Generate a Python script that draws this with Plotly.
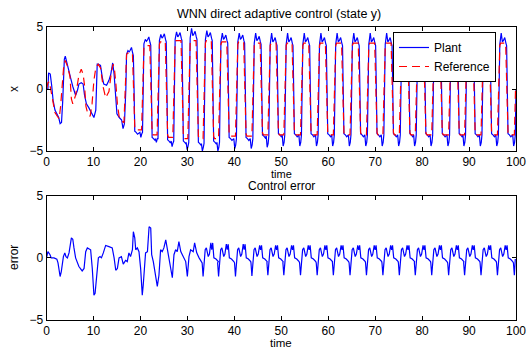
import plotly.graph_objects as go

# ---------------- data ----------------
# Plant (state y), irregular start
plant_early_t = [0, 0.3, 0.45, 0.8, 1.1, 1.4, 1.8, 2.2, 2.6, 2.9, 3.2, 3.45, 3.8, 4.0, 4.4, 4.8,
                 5.2, 5.6, 5.9, 6.2, 6.6, 6.9, 7.4, 7.8, 8.1, 8.5, 9.0, 9.5, 10.1, 10.5, 10.8,
                 11.0, 11.5, 11.9, 12.2, 12.8, 13.3, 13.7, 14.1, 14.4, 14.8, 15.0, 15.5, 16.0,
                 16.3, 16.6]
plant_early_v = [0, 0.0, 1.3, 1.2, 0.3, -0.9, -1.7, -2.0, -2.3, -2.8, -2.7, -1.0, 2.4, 2.65, 2.1,
                 1.4, 0.8, 0.2, -0.1, -0.5, -0.1, 0.4, 0.5, 0.4, -0.5, -1.2, -1.5, -1.9, -2.3,
                 -1.7, 2.0, 2.0, 1.9, 0.9, 0.4, 0.3, 0.7, 1.2, 2.1, 1.2, -0.9, -2.0, -2.3, -2.5,
                 -3.2, -2.8]

# Reference, irregular start
ref_early_t = [0, 0.3, 0.6, 1.0, 1.4, 1.8, 2.3, 2.7, 3.0, 3.4, 3.7, 4.0, 4.5, 5.0, 5.3, 5.6,
               6.2, 6.9, 7.4, 7.8, 8.1, 8.4, 8.8, 9.3, 9.7, 10.1, 10.5, 11.0, 11.5, 12.1, 12.6,
               13.3, 13.8, 14.2, 14.5, 14.8, 15.1, 15.5, 16.0, 16.5]
ref_early_v = [0, 0.5, 0.6, -0.2, -1.2, -1.9, -2.2, -2.4, -1.4, 0.6, 2.0, 2.3, 1.8, 1.0, -0.8,
               -1.2, -0.5, 1.1, 1.6, 1.2, 0.3, -1.4, -2.0, -2.2, -1.2, 0.7, 1.7, 2.0, 1.7, 0.1,
               -0.7, -0.2, 1.3, 2.0, 1.5, 0.3, -1.2, -2.3, -2.6, -2.7]

# Control error, irregular start
err_early_t = [0, 0.3, 0.75, 1.0, 1.6, 2.2, 2.45, 2.9, 3.15, 3.6, 3.9, 4.15, 4.45, 4.8, 5.3,
               5.6, 5.85, 6.2, 6.9, 7.6, 8.0, 8.35, 8.7, 9.05, 9.4, 9.75, 10.1, 10.35, 10.7,
               11.05, 11.4, 11.7, 12.1, 12.6, 13.3, 14.0, 14.4, 14.75, 15.1, 15.45, 15.95,
               16.35, 16.85, 17.2, 17.55, 17.9, 18.3, 18.5, 18.8, 19.0, 19.35, 19.7, 20.05,
               20.4, 20.6, 20.9, 21.1, 21.5, 21.85, 22.2, 22.4, 22.75, 23.1, 23.6, 23.95, 24.3,
               24.65, 25.0, 25.4, 25.75, 26.1, 26.45, 26.8, 27.15, 27.5, 27.85, 28.2, 28.6,
               28.95, 29.65, 30.0, 30.35, 30.7, 31.25, 31.55, 32.0, 32.5]
err_early_v = [0, 0.5, 0.25, 0.0, 0.0, -0.1, -0.4, -1.5, -1.1, 0.1, 0.4, 0.1, 0.0, 0.4, 1.6,
               1.5, 0.8, 0.0, -0.7, -1.05, -0.85, 0.5, 0.8, 0.7, 0.65, -0.85, -3.0, -2.85, -1.1,
               0.0, 0.1, 0.0, 0.4, 1.0, 0.9, 0.8, 0.0, -1.0, -0.85, 0.0, 0.1, -0.5, -0.2, -0.3,
               0.4, 0.1, 0.65, 2.1, 1.6, 0.65, 0.8, 0.5, -0.85, -3.0, -2.2, 0.0, 0.4, 0.5, 2.5,
               2.4, 0.25, -0.3, -1.1, -2.3, -1.4, 0.65, 0.5, 0.8, 1.45, 0.65, -0.2, -0.7, -1.6,
               0.25, 0.65, 0.5, 1.3, 0.5, 0.25, -0.3, -1.5, 0.1, 0.65, 0.5, 1.2, 0.4, 0.0]

# Periodic part: one entry per cycle (time of the plant's rising edge)
cycle_rise   = [16.9, 20.6, 23.9, 27.25, 30.45, 33.7, 37.0, 40.6, 44.1, 47.5, 50.9, 54.45,
                58.0, 61.45, 65.0, 68.5, 72.0, 75.5, 78.9, 82.4, 86.0, 89.4, 92.9, 96.4, 100.0]
plant_peak   = [3.1, 4.0, 4.4, 4.6, 4.9, 4.7, 4.5, 4.5, 4.5, 4.5, 4.5, 4.5, 4.5, 4.5, 4.5,
                4.5, 4.5, 4.5, 4.5, 4.5, 4.5, 4.5, 4.5, 4.5, 4.5]
plant_high   = [3.0, 3.85, 4.1, 4.2, 4.3, 4.2, 4.0, 4.0, 3.9, 3.8, 3.8, 3.8, 3.8, 3.8, 3.8,
                3.8, 3.8, 3.8, 3.8, 3.8, 3.8, 3.8, 3.8, 3.8, 3.8]
plant_low    = [-3.5, -4.0, -4.2, -4.3, -4.4, -4.3, -4.0, -4.0, -3.8, -3.7, -3.7, -3.7, -3.7,
                -3.7, -3.7, -3.7, -3.7, -3.7, -3.7, -3.7, -3.7, -3.7, -3.7, -3.7, -3.7]
plant_trough = [-3.9, -4.3, -4.65, -4.9, -5.0, -5.0, -4.8, -4.8, -4.7, -4.6, -4.6, -4.6, -4.6,
                -4.6, -4.6, -4.6, -4.6, -4.6, -4.6, -4.6, -4.6, -4.6, -4.6, -4.6, -4.6]
ref_high     = [2.9, 3.5, 3.8, 3.9, 3.9, 3.9, 3.8, 3.8, 3.7, 3.7, 3.7, 3.7, 3.7, 3.7, 3.7,
                3.7, 3.7, 3.7, 3.7, 3.7, 3.7, 3.7, 3.7, 3.7, 3.7]
ref_low      = [-3.3, -3.7, -3.9, -4.0, -4.0, -4.0, -3.8, -3.8, -3.7, -3.7, -3.7, -3.7, -3.7,
                -3.7, -3.7, -3.7, -3.7, -3.7, -3.7, -3.7, -3.7, -3.7, -3.7, -3.7, -3.7]
err_dip      = [None, None, None, None, None, -1.5, -1.5, -1.5, -1.45, -1.4, -1.4, -1.4, -1.4,
                -1.4, -1.4, -1.4, -1.4, -1.4, -1.4, -1.4, -1.4, -1.4, -1.4, -1.4, -1.4]
err_peak     = [None, None, None, None, None, 1.2, 1.1, 1.1, 1.0, 1.0, 1.0, 1.0, 1.0, 1.0,
                1.0, 1.0, 1.0, 1.0, 1.0, 1.0, 1.0, 1.0, 1.0, 1.0, 1.0]

T_END = 100.0

# ---------------- build the series from the read values ----------------
def clip(ts, vs):
    out_t, out_v = [], []
    for t, v in zip(ts, vs):
        if t <= T_END + 1e-9:
            out_t.append(t)
            out_v.append(v)
    return out_t, out_v

pt, pv = list(plant_early_t), list(plant_early_v)
rt, rv = list(ref_early_t), list(ref_early_v)
et, ev = list(err_early_t), list(err_early_v)

n = len(cycle_rise)
for i, r in enumerate(cycle_rise):
    nxt = cycle_rise[i + 1] if i + 1 < n else r + 3.5
    H, P, L, T = plant_high[i], plant_peak[i], plant_low[i], plant_trough[i]
    pt += [r, r + 0.15, r + 0.45, r + 0.7, r + 0.9, r + 1.2, r + 1.45, r + 1.6, r + 1.75,
           r + 1.9, r + 2.2, r + 2.5, nxt - 0.7, nxt - 0.5, nxt - 0.3, nxt - 0.15]
    pv += [0, H - 0.2, P, H, H + 0.1, H + 0.35, H - 0.1, H - 0.3, 0,
           L + 0.1, L, L - 0.15, L, T, T + 0.3, L]
    RH, RL = ref_high[i], ref_low[i]
    rt += [r - 0.1, r + 0.15, r + 0.35, r + 1.4, r + 1.65, r + 1.9, r + 2.1, nxt - 0.35]
    rv += [0, RH * 0.95, RH, RH, 0, RL * 0.95, RL, RL]
    if err_dip[i] is not None:
        D, Q = err_dip[i], err_peak[i]
        et += [r - 0.55, r - 0.35, r - 0.15, r + 0.1, r + 0.35, r + 0.6, r + 0.75, r + 1.0,
               r + 1.3, r + 1.5, r + 1.7, r + 1.95, r + 2.4, r + 2.9]
        ev += [-0.4, D, -0.1, 0.65, 0.8, 0.2, 0.1, 0.3, Q, 0.65, Q, 0.0, -0.1, -0.3]

pt, pv = clip(pt, pv)
rt, rv = clip(rt, rv)
et, ev = clip(et, ev)

# ---------------- figure ----------------
FONT = "Liberation Sans, Arial, Helvetica, sans-serif"
fig = go.Figure()
fig.add_trace(go.Scatter(x=pt, y=pv, mode="lines", name="Plant",
                         line=dict(color="#0000ff", width=1.2), xaxis="x", yaxis="y"))
fig.add_trace(go.Scatter(x=rt, y=rv, mode="lines", name="Reference",
                         line=dict(color="#ff0000", width=1.2, dash="8px,5px"),
                         xaxis="x", yaxis="y"))
fig.add_trace(go.Scatter(x=et, y=ev, mode="lines", name="error", showlegend=False,
                         line=dict(color="#0000ff", width=1.2), xaxis="x2", yaxis="y2"))

W, Hh = 531, 351
x0, x1 = 46.5 / W, 516 / W
ax_common = dict(showline=True, linecolor="black", linewidth=1, mirror="ticks",
                 ticks="inside", ticklen=4, tickcolor="black", showgrid=False,
                 zeroline=False, automargin=False,
                 tickfont=dict(family=FONT, size=12, color="black"))

def ann(text, px, py, angle=0, size=12, yanchor="middle"):
    return dict(text=text, x=px / W, y=1 - py / Hh, xref="paper", yref="paper",
                xanchor="center", yanchor=yanchor, textangle=angle, showarrow=False,
                font=dict(size=size))

fig.update_layout(
    width=W, height=Hh, margin=dict(l=0, r=0, t=0, b=0, pad=0),
    paper_bgcolor="white", plot_bgcolor="white",
    font=dict(family=FONT, size=12, color="black"),
    xaxis=dict(domain=[x0, x1], range=[0, 100], tickvals=list(range(0, 101, 10)),
               anchor="y", **ax_common),
    yaxis=dict(domain=[1 - 151 / Hh, 1 - 27 / Hh], range=[-5, 5], tickvals=[-5, 0, 5],
               anchor="x", **ax_common),
    xaxis2=dict(domain=[x0, x1], range=[0, 100], tickvals=list(range(0, 101, 10)),
                anchor="y2", **ax_common),
    yaxis2=dict(domain=[1 - 320 / Hh, 1 - 195.7 / Hh], range=[-5, 5], tickvals=[-5, 0, 5],
                anchor="x2", **ax_common),
    showlegend=True,
    legend=dict(x=393 / W, y=1 - 32 / Hh, xanchor="left", yanchor="top",
                bgcolor="white", bordercolor="black", borderwidth=1,
                font=dict(family=FONT, size=12), tracegroupgap=0),
    annotations=[
        ann("WNN direct adaptive control (state y)", 279, 14, size=12.5),
        ann("Control error", 281, 195, size=12, yanchor="bottom"),
        ann("time", 281, 166, size=11, yanchor="top"),
        ann("time", 281, 343, size=11.5),
        ann("x", 14, 89, -90),
        ann("error", 14, 258, -90),
    ],
)

fig.write_html("out.html",
               config={"displayModeBar": False, "staticPlot": True},
               post_script="document.body.style.margin='0';"
                           "document.body.style.overflow='hidden';")
